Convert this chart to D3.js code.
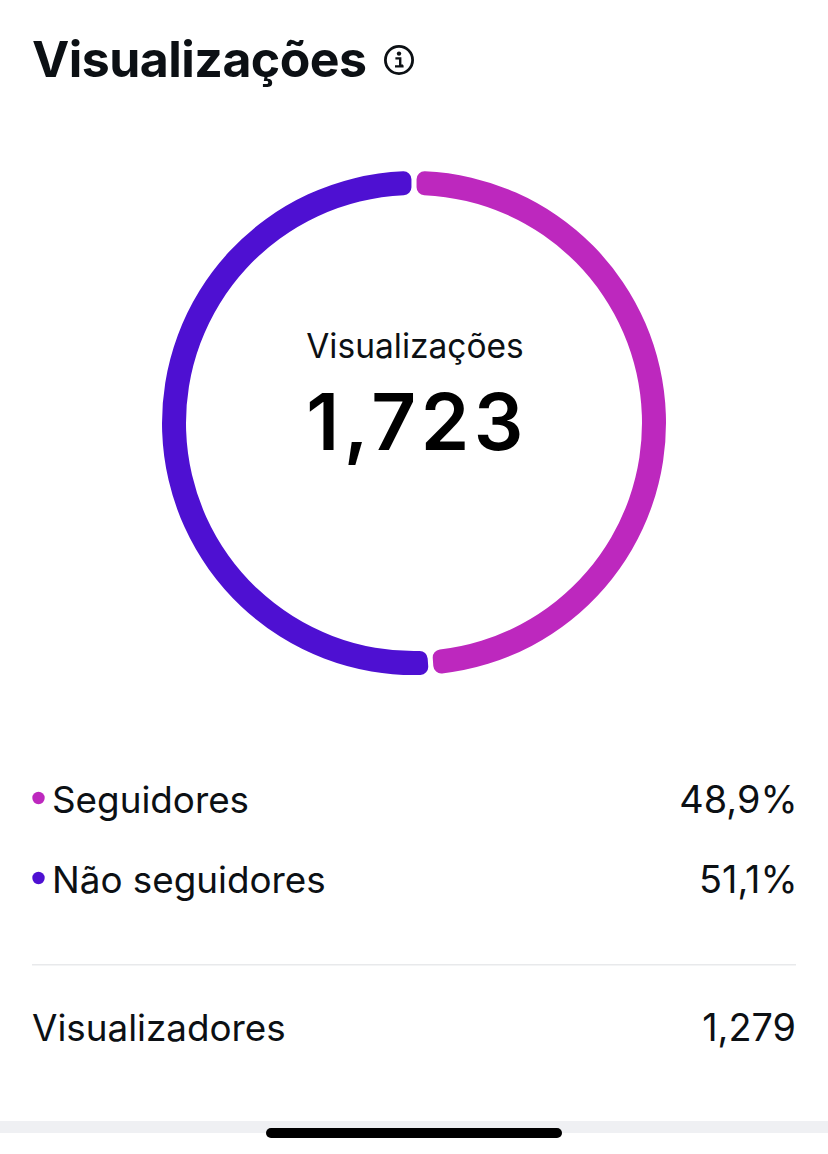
<!DOCTYPE html>
<html><head><meta charset="utf-8">
<script src="https://cdn.jsdelivr.net/npm/d3@7/dist/d3.min.js"></script>
<style>html,body{margin:0;padding:0;background:#fff}svg{display:block}text{font-family:Inter,Roboto,sans-serif}</style>
</head><body>
<script>
const titleText = "Visualizações";
const categories = ["Seguidores", "Não seguidores"];
const shares = [48.9, 51.1];
const shareLabels = ["48,9%", "51,1%"];
const colors = ["#BD28BE", "#4E10D2"];
const centerLabel = "Visualizações";
const centerValue = "1,723";
const footerLabel = "Visualizadores";
const footerValue = "1,279";

const W = 828, H = 1154;
const svg = d3.select("body").append("svg").attr("width", W).attr("height", H);
svg.append("rect").attr("width", W).attr("height", H).attr("fill", "#fff");

svg.append("text").attr("x", 32).attr("y", 77).attr("font-size", 50).attr("font-weight", 700)
  .attr("letter-spacing", -0.55).attr("fill", "#0C1014").text(titleText);

const info = svg.append("g").attr("transform", "translate(399,60)");
info.append("circle").attr("r", 13.6).attr("fill", "none").attr("stroke", "#0C1014").attr("stroke-width", 2.8);
info.append("circle").attr("cy", -6.4).attr("r", 2.2).attr("fill", "#0C1014");
info.append("path").attr("d", "M-3.6,-1.6H1.2V5.6H4M-4,6.4H4.6").attr("fill", "none").attr("stroke", "#0C1014").attr("stroke-width", 2.4);

const pie = d3.pie().sort(null).padAngle(0.015);
const arc = d3.arc().innerRadius(228).outerRadius(252).cornerRadius(8);
const ring = svg.append("g").attr("transform", "translate(414,423)");
ring.selectAll("path").data(pie(shares)).join("path")
  .attr("d", arc).attr("fill", (d, i) => colors[i]);

svg.append("text").attr("x", 415).attr("y", 358).attr("text-anchor", "middle").attr("font-size", 33.5)
  .attr("font-weight", 400).attr("fill", "#0C1014").text(centerLabel);
svg.append("text").attr("x", 417).attr("y", 450).attr("text-anchor", "middle").attr("font-size", 78)
  .attr("font-weight", 600).attr("letter-spacing", 4.4).attr("fill", "#000").text(centerValue);

const rowY = d3.scalePoint().domain(categories).range([813, 893]);
const rows = svg.selectAll("g.row").data(categories).join("g").attr("class", "row");
rows.append("circle").attr("cx", 38.5).attr("cy", d => rowY(d) - 15).attr("r", 6.2)
  .attr("fill", (d, i) => colors[i]);
rows.append("text").attr("x", 52).attr("y", d => rowY(d)).attr("font-size", 36.8).attr("fill", "#0C1014").text(d => d);
rows.append("text").attr("x", 797.5).attr("y", d => rowY(d)).attr("text-anchor", "end").attr("font-size", 37.8)
  .attr("fill", "#0C1014").text((d, i) => shareLabels[i]);

svg.append("rect").attr("x", 32).attr("y", 964).attr("width", 764).attr("height", 1.5).attr("fill", "#E8E9EB");

svg.append("text").attr("x", 32).attr("y", 1041).attr("font-size", 36.8).attr("fill", "#0C1014").text(footerLabel);
svg.append("text").attr("x", 796).attr("y", 1041).attr("text-anchor", "end").attr("font-size", 37.8).attr("fill", "#0C1014").text(footerValue);

svg.append("rect").attr("x", 0).attr("y", 1121).attr("width", W).attr("height", 12).attr("fill", "#EFF0F3");
svg.append("rect").attr("x", 266).attr("y", 1128).attr("width", 296).attr("height", 10).attr("rx", 5).attr("fill", "#000");
</script>
</body></html>
